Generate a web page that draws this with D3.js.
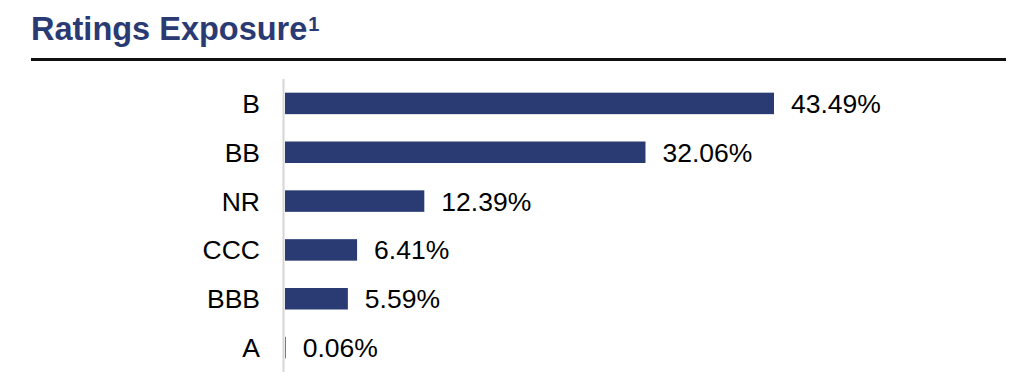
<!DOCTYPE html>
<html>
<head>
<meta charset="utf-8">
<script src="https://cdn.jsdelivr.net/npm/d3@7"></script>
<style>
  body { margin: 0; background: #fff; }
  svg { display: block; font-family: "Liberation Sans", Arial, sans-serif; }
</style>
</head>
<body>
<div id="chart"></div>
<script>
// ratings and their share of exposure (%)
var ratings = ["B", "BB", "NR", "CCC", "BBB", "A"];
var exposure = [43.49, 32.06, 12.39, 6.41, 5.59, 0.06];
var valueLabels = ["43.49%", "32.06%", "12.39%", "6.41%", "5.59%", "0.06%"];

var W = 1024, H = 389;
var navy = "#2a3a73";

var svg = d3.select("#chart").append("svg")
    .attr("width", W).attr("height", H);

// title + rule
var title = svg.append("text")
    .attr("x", 31).attr("y", 40)
    .attr("fill", navy)
    .style("font-size", "32.5px")
    .style("font-weight", "bold");
title.append("tspan").text("Ratings Exposure");
title.append("tspan").text("1")
    .style("font-size", "20px")
    .attr("dx", 1)
    .attr("dy", -9);

svg.append("line")
    .attr("x1", 31).attr("x2", 1006)
    .attr("y1", 59.5).attr("y2", 59.5)
    .attr("stroke", "#111").attr("stroke-width", 3);

var x = d3.scaleLinear().domain([0, 43.49]).range([285, 774]);
var y = d3.scaleBand().domain(ratings).range([79, 372]).paddingInner(0.56).paddingOuter(0.28);

// axis line at zero
svg.append("line")
    .attr("x1", 283.5).attr("x2", 283.5)
    .attr("y1", 79).attr("y2", 372)
    .attr("stroke", "#d6d6d6").attr("stroke-width", 2);

var rows = ratings.map(function (r, i) { return { r: r, v: exposure[i], lab: valueLabels[i] }; });

svg.selectAll("rect.bar").data(rows).enter().append("rect")
    .attr("class", "bar")
    .attr("x", x(0))
    .attr("y", function (d) { return y(d.r); })
    .attr("width", function (d) { return x(d.v) - x(0); })
    .attr("height", y.bandwidth())
    .attr("fill", navy);

svg.selectAll("text.cat").data(rows).enter().append("text")
    .attr("class", "cat")
    .attr("x", 260)
    .attr("y", function (d) { return y(d.r) + y.bandwidth() / 2; })
    .attr("dy", "0.36em")
    .attr("text-anchor", "end")
    .style("font-size", "26.5px")
    .attr("fill", "#000")
    .text(function (d) { return d.r; });

svg.selectAll("text.val").data(rows).enter().append("text")
    .attr("class", "val")
    .attr("x", function (d) { return x(d.v) + 17; })
    .attr("y", function (d) { return y(d.r) + y.bandwidth() / 2; })
    .attr("dy", "0.36em")
    .style("font-size", "26.5px")
    .attr("fill", "#000")
    .text(function (d) { return d.lab; });
</script>
</body>
</html>
